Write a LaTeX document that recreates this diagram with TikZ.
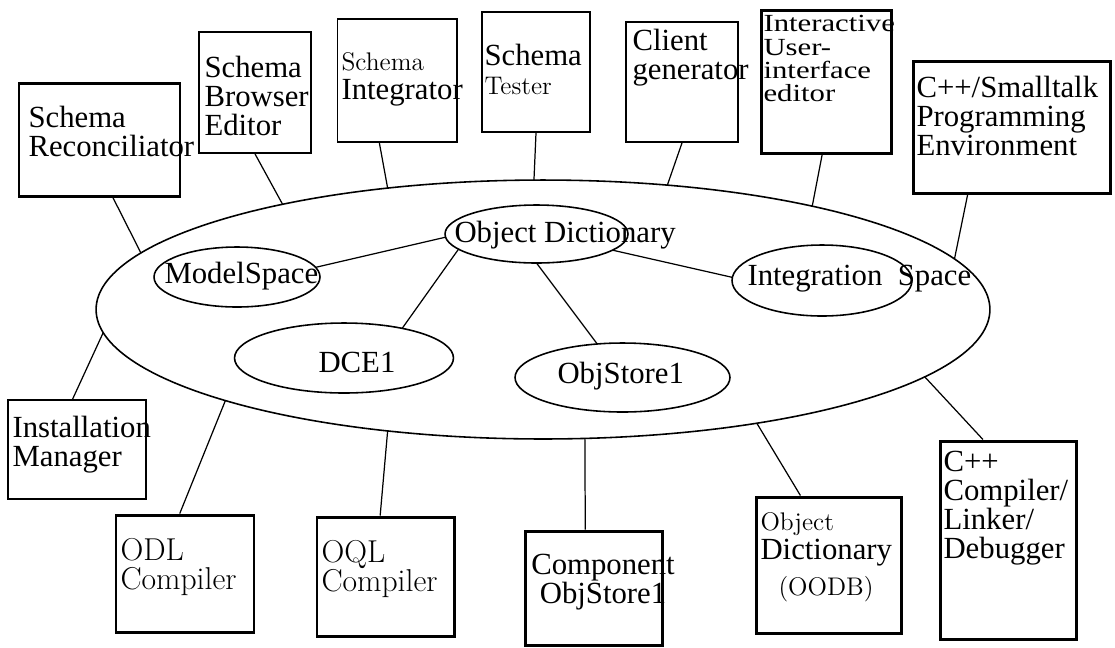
\documentclass[tikz,border=0pt]{standalone}
\usepackage{fontspec}
\newfontfamily\timesfont{Liberation Serif}
\newfontfamily\timeswide{Liberation Serif}[FakeStretch=1.25]
\usetikzlibrary{shapes.geometric, fit}

% lighter face used for some words
\newcommand{\lightword}[1]{{\rmfamily\fontsize{14.5}{16.5}\selectfont #1}}
\newcommand{\lightbig}{\rmfamily\fontsize{18}{16.5}\selectfont}

\begin{document}
\begin{tikzpicture}[
            x = 0.02cm, y = -0.02cm, % one unit = one pixel of the drawing
            semithick % line style
        ]

        \tikzstyle{thickbox}=[draw = black, line width = 1.7pt, inner sep = 0pt]
        \tikzstyle{thinbox}=[draw = black, line width = 1pt, inner sep = 0pt]
        \tikzstyle{oval}=[draw = black, ellipse, line width = 0.9pt, inner sep = 0pt, outer sep = 0pt]
        \tikzstyle{boxtext}=[anchor = north west, align = left, inner sep = 0pt,
            font = \timesfont\fontsize{17.5}{16.5}\selectfont]
        \tikzstyle{ovaltext}=[anchor = base west, inner sep = 0pt,
            font = \timesfont\fontsize{17.5}{16.5}\selectfont]
        \tikzstyle{link}=[line width = 0.7pt]

        \path[use as bounding box, fill = white] (0,0) rectangle (1115,647);

        % the repository and its spaces
        \node[oval, minimum width = 17.88cm, minimum height = 5.18cm] (repo) at (543,309.5) {};
        \node[oval, minimum width = 3.66cm, minimum height = 1.16cm] (objdict) at (536.5,234) {};
        \node[oval, minimum width = 3.32cm, minimum height = 1.2cm] (model) at (237,277) {};
        \node[oval, minimum width = 4.38cm, minimum height = 1.4cm] (dce) at (344,358) {};
        \node[oval, minimum width = 4.3cm, minimum height = 1.38cm] (objstore) at (622.5,377.5) {};
        \node[oval, minimum width = 3.6cm, minimum height = 1.42cm] (integ) at (822,280.5) {};

        \node[ovaltext] (objdict-t) at (454,242) {Object Dictionary};
        \node[ovaltext] (model-t) at (164,283) {ModelSpace};
        \node[ovaltext] (dce-t) at (318,372) {DCE1};
        \node[ovaltext] (objstore-t) at (557,383) {ObjStore1};
        \node[ovaltext] (integ-t) at (747,285) {Integration\ \ Space};

        % tools above
        \node[thickbox, fit = {(19,83) (180,196)}] (recon) {};
        \node[thinbox, fit = {(199,32) (311,153)}] (browser) {};
        \node[thinbox, fit = {(337.5,19) (457,142)}] (integrator) {};
        \node[thinbox, fit = {(482,12) (590,132)}] (tester) {};
        \node[thinbox, fit = {(626,22) (738,142)}] (client) {};
        \node[thickbox, fit = {(761,10) (891,153)}] (uied) {};
        \node[thickbox, fit = {(913,61) (1110,193)}] (progenv) {};

        \node[boxtext] (recon-t) at (28,106) {Schema\\Reconciliator};
        \node[boxtext] (browser-t) at (204,56) {Schema\\Browser\\Editor};
        \node[boxtext] (integrator-t) at (341,52) {\lightword{Schema}\\Integrator};
        \node[boxtext] (tester-t) at (484,44) {Schema\\\lightword{Tester}};
        \node[boxtext] (client-t) at (632,29) {Client\\generator};
        \node[boxtext, font = \timeswide\fontsize{14}{13.2}\selectfont] (uied-t) at (763,15)
            {Interactive\\User-\\interface\\editor};
        \node[boxtext] (progenv-t) at (916,76) {C++/Smalltalk\\Programming\\Environment};

        % tools below
        \node[thinbox, fit = {(8,400) (146,499)}] (install) {};
        \node[thickbox, fit = {(116,515) (254,632)}] (odl) {};
        \node[thickbox, fit = {(317,517) (454,636)}] (oql) {};
        \node[thickbox, fit = {(525,531) (662,645)}] (component) {};
        \node[thickbox, fit = {(756,497) (901,633)}] (oodb) {};
        \node[thickbox, fit = {(940,441) (1076,639)}] (compiler) {};

        \node[boxtext] (install-t) at (12,416) {Installation\\Manager};
        \node[boxtext, font = \lightbig] (odl-t) at (120,538) {ODL\\Compiler};
        \node[boxtext, font = \lightbig] (oql-t) at (321,540) {OQL\\Compiler};
        \node[boxtext, anchor = north, align = center] (component-t) at (603,554) {Component\\ObjStore1};
        \node[boxtext] (oodb-t) at (760,512)
            {\lightword{Object}\\Dictionary\\[0.15cm]\hspace{0.36cm}\lightword{(OODB)}};
        \node[boxtext] (compiler-t) at (943,451) {C++\\Compiler/\\Linker/\\Debugger};

        % spaces inside the repository
        \draw[link] (objdict.182.5) -- (model.7.2);
        \draw[link] (objdict.-12.4) -- (integ.178.4);
        \draw[link] (objdict.191.6) -- (dce.27.3);
        \draw[link] (objdict.270) -- (objstore.127.5);

        % tools to the repository
        \draw[link] (recon.-77.5) -- (repo.172.4);
        \draw[link] (browser.south) -- (repo.158.6);
        \draw[link] (integrator.254.5) -- (repo.142);
        \draw[link] (tester.south) -- (repo.94);
        \draw[link] (client.south) -- (repo.45.8);
        \draw[link] (uied.-93) -- (repo.21.1);
        \draw[link] (progenv.237.2) -- (repo.7.9);
        \draw[link] (install.95) -- (repo.183.8);
        \draw[link] (odl.95.9) -- (repo.196.5);
        \draw[link] (oql.95.3) -- (repo.218.1);
        \draw[link] (component.98.5) -- (repo.288);
        \draw[link] (oodb.112) -- (repo.332.3);
        \draw[link] (compiler.104.2) -- (repo.350.3);

    \end{tikzpicture}
\end{document}
